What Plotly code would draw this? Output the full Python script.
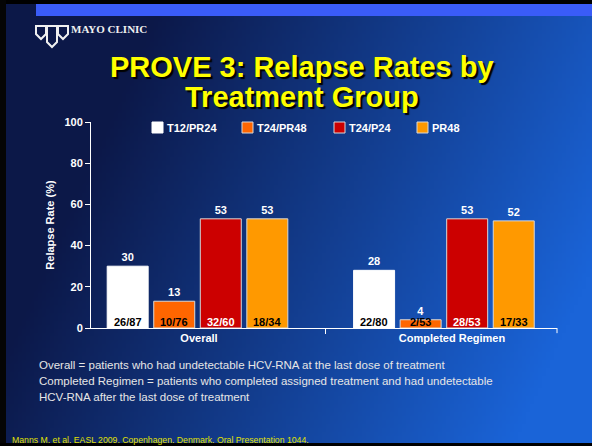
import base64
import struct
import zlib

import numpy as np
import plotly.graph_objects as go

# ---- data -------------------------------------------------------------
categories = ["Overall", "Completed Regimen"]
groups = ["T12/PR24", "T24/PR48", "T24/P24", "PR48"]
relapse_t12pr24 = [30, 28]
relapse_t24pr48 = [13, 4]
relapse_t24p24 = [53, 53]
relapse_pr48 = [53, 52]
counts_t12pr24 = ["26/87", "22/80"]
counts_t24pr48 = ["10/76", "2/53"]
counts_t24p24 = ["32/60", "28/53"]
counts_pr48 = ["18/34", "17/33"]
y_ticks = [0, 20, 40, 60, 80, 100]

relapse = [relapse_t12pr24, relapse_t24pr48, relapse_t24p24, relapse_pr48]
counts = [counts_t12pr24, counts_t24pr48, counts_t24p24, counts_pr48]

# ---- styling ----------------------------------------------------------
W, H = 592, 446
FONT = "Liberation Sans, Arial, sans-serif"
bar_colors = ["#ffffff", "#ff6600", "#cc0000", "#ff9900"]
count_colors = ["#000000", "#000000", "#ffffff", "#000000"]
edge_colors = ["#ffffff", "#d8d8d8", "#d8d8d8", "#d8d8d8"]

bar_width = 0.162      # category units
bar_pitch = 0.184
group_shift = [-0.006, -0.032]

# key swatch left edges (px) across the top of the plot
legend_x = [152, 242, 334, 417]


def px(x):
    return x / W


def py(y):
    return 1 - y / H


def png_uri(rgb):
    h, w, _ = rgb.shape
    raw = b"".join(b"\x00" + row.tobytes() for row in rgb)

    def chunk(tag, data):
        return (struct.pack(">I", len(data)) + tag + data
                + struct.pack(">I", zlib.crc32(tag + data) & 0xFFFFFFFF))

    png = (b"\x89PNG\r\n\x1a\n"
           + chunk(b"IHDR", struct.pack(">IIBBBBB", w, h, 8, 2, 0, 0, 0))
           + chunk(b"IDAT", zlib.compress(raw, 9))
           + chunk(b"IEND", b""))
    return "data:image/png;base64," + base64.b64encode(png).decode()


# navy-to-blue slide background
gw, gh = 148, 112
u = np.linspace(0, 1, gw)[None, :]
v = np.linspace(0, 1, gh)[:, None]
t = np.clip((0.75 * u + 0.25 * v - 0.2) / 0.7, 0, 1)
dark = np.array([12, 24, 72], float)
bright = np.array([26, 100, 216], float)
bg = (dark[None, None, :] * (1 - t[..., None]) + bright[None, None, :] * t[..., None])
bg = bg.astype(np.uint8)

fig = go.Figure()

for i, name in enumerate(groups):
    offsets = [group_shift[c] + (i - 1.5) * bar_pitch - bar_width / 2
               for c in range(len(categories))]
    fig.add_trace(go.Bar(
        name=name,
        x=categories,
        y=relapse[i],
        width=bar_width,
        offset=offsets,
        marker=dict(color=bar_colors[i], line=dict(color=edge_colors[i], width=1)),
        text=[str(val) for val in relapse[i]],
        textposition="outside",
        textfont=dict(family=FONT, size=11, color="white", weight="bold"),
        cliponaxis=False,
        hoverinfo="skip",
        showlegend=False,
    ))

annotations = []
# n/N labels at the base of each bar
for i in range(len(groups)):
    for c in range(len(categories)):
        annotations.append(dict(
            x=c + group_shift[c] + (i - 1.5) * bar_pitch, y=0,
            xref="x", yref="y", yanchor="bottom", yshift=-2,
            text="<b>%s</b>" % counts[i][c], showarrow=False,
            font=dict(family=FONT, size=11, color=count_colors[i]),
        ))

# slide title with drop shadow
title_lines = ["PROVE 3: Relapse Rates by", "Treatment Group"]
title_y = [67, 97]
for line, yy in zip(title_lines, title_y):
    annotations.append(dict(
        x=px(302), y=py(yy), xref="paper", yref="paper",
        xanchor="center", yanchor="middle",
        text="<b>%s</b>" % line, showarrow=False,
        font=dict(family=FONT, size=29, color="#ffff00",
                  shadow="2px 2px 1px #000000"),
    ))

# key: swatch + label per treatment group
shapes = []
for i, name in enumerate(groups):
    x0 = legend_x[i]
    shapes.append(dict(
        type="rect", xref="paper", yref="paper",
        x0=px(x0), x1=px(x0 + 11), y0=py(133), y1=py(122),
        fillcolor=bar_colors[i], line=dict(color=edge_colors[i], width=1),
    ))
    annotations.append(dict(
        x=px(x0 + 13), y=py(127.5), xref="paper", yref="paper",
        xanchor="left", yanchor="middle", text="<b>%s</b>" % name, showarrow=False,
        font=dict(family=FONT, size=11, color="white"),
    ))

# footnotes
notes = [
    "Overall = patients who had undetectable HCV-RNA at the last dose of treatment",
    "Completed Regimen = patients who completed assigned treatment and had undetectable",
    "HCV-RNA after the last dose of treatment",
]
for k, line in enumerate(notes):
    annotations.append(dict(
        x=px(37), y=py(365 + 16 * k), xref="paper", yref="paper",
        xanchor="left", yanchor="middle", text=line, showarrow=False,
        font=dict(family=FONT, size=11.5, color="#e6e6e6"),
    ))

annotations.append(dict(
    x=px(10), y=py(440), xref="paper", yref="paper",
    xanchor="left", yanchor="middle",
    text="Manns M. et al. EASL 2009. Copenhagen. Denmark. Oral Presentation 1044.",
    showarrow=False, font=dict(family=FONT, size=8.7, color="#e0e000"),
))

annotations.append(dict(
    x=px(69), y=py(29), xref="paper", yref="paper",
    xanchor="left", yanchor="middle", text="<b>MAYO CLINIC</b>", showarrow=False,
    font=dict(family="Liberation Serif, serif", size=11, color="#f0f0f0"),
))


def path_px(points, close=True):
    s = "M " + " L ".join("%.5f,%.5f" % (px(a), py(b)) for a, b in points)
    return s + (" Z" if close else "")


shapes += [
    # frame strips and the header band
    dict(type="rect", xref="paper", yref="paper", x0=0, x1=1, y0=py(4), y1=1,
         fillcolor="#000000", line_width=0, layer="above"),
    dict(type="rect", xref="paper", yref="paper", x0=0, x1=px(6), y0=0, y1=1,
         fillcolor="#050505", line_width=0, layer="above"),
    dict(type="rect", xref="paper", yref="paper", x0=0, x1=1, y0=0, y1=py(443),
         fillcolor="#000000", line_width=0, layer="above"),
    dict(type="rect", xref="paper", yref="paper", x0=px(36), x1=1, y0=py(16), y1=py(4),
         fillcolor="#3a5cf8", line_width=0, layer="above"),
    # end tick of the category axis
    dict(type="line", xref="x domain", yref="y domain", x0=1, x1=1, y0=0, y1=-0.025,
         line=dict(color="white", width=1)),
]

# three-shield emblem
for cx, bottom in [(41, 39), (52, 47), (63, 39)]:
    shapes.append(dict(
        type="path", xref="paper", yref="paper",
        path=path_px([(cx - 5, 26), (cx + 5, 26), (cx + 5, bottom - 5),
                      (cx, bottom), (cx - 5, bottom - 5)]),
        line=dict(color="#f0f0f0", width=2), fillcolor="rgba(0,0,0,0)", layer="above",
    ))

fig.update_layout(
    width=W, height=H,
    margin=dict(l=0, r=0, t=0, b=0, autoexpand=False),
    paper_bgcolor="#0c1848",
    plot_bgcolor="rgba(0,0,0,0)",
    barmode="overlay",
    font=dict(family=FONT, size=11, color="white"),
    showlegend=False,
    xaxis=dict(
        domain=[px(91), px(557)], range=[-0.427, 1.415],
        type="category", tickson="boundaries", ticks="outside", ticklen=5,
        tickcolor="white", showline=True, linecolor="white", linewidth=1,
        showgrid=False, zeroline=False,
        tickfont=dict(family=FONT, size=11, color="white", weight="bold"),
    ),
    yaxis=dict(
        domain=[py(328), py(122)], range=[0, 100],
        tickvals=y_ticks, ticks="outside", ticklen=5, tickcolor="white",
        showline=True, linecolor="white", linewidth=1, showgrid=False, zeroline=False,
        tickfont=dict(family=FONT, size=11, color="white", weight="bold"),
        title=dict(text="Relapse Rate (%)", standoff=7,
                   font=dict(family=FONT, size=11, color="white", weight="bold")),
    ),
    annotations=annotations,
    shapes=shapes,
    images=[dict(source=png_uri(bg), xref="paper", yref="paper", x=0, y=1,
                 sizex=1, sizey=1, xanchor="left", yanchor="top",
                 sizing="stretch", layer="below")],
)

fig.write_html("out.html")
